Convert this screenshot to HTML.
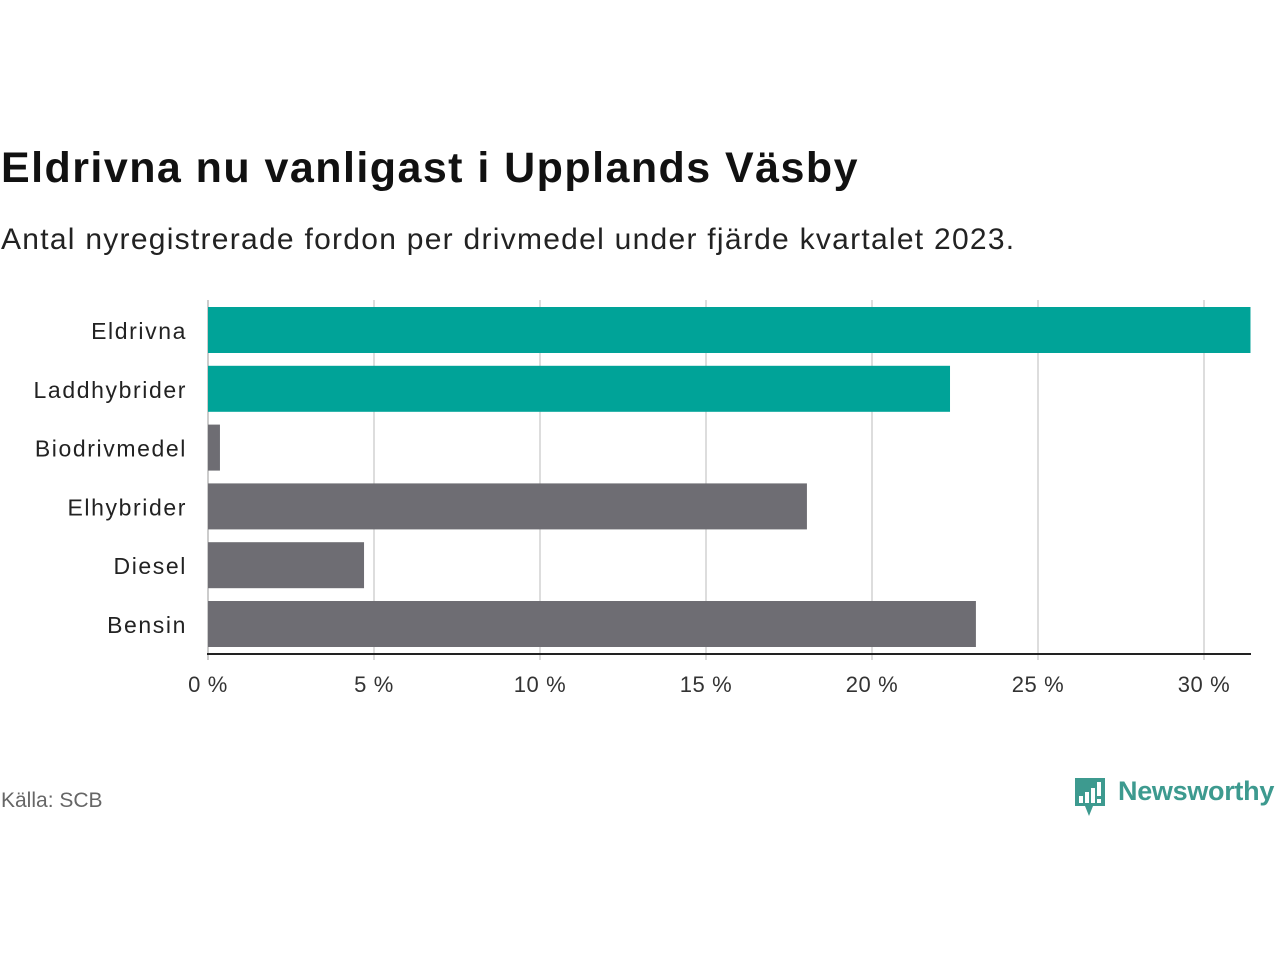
<!DOCTYPE html>
<html><head><meta charset="utf-8"><style>
body{margin:0;width:1280px;height:960px;background:#fff;font-family:"Liberation Sans","DejaVu Sans",sans-serif;overflow:hidden;position:relative}
.t{position:absolute;white-space:nowrap}
</style></head><body>
<div class="t" style="left:1px;top:144px;font-size:43px;font-weight:bold;color:#111;letter-spacing:1.45px">Eldrivna nu vanligast i Upplands Väsby</div>
<div class="t" style="left:1px;top:223px;font-size:30px;color:#222;letter-spacing:1.27px">Antal nyregistrerade fordon per drivmedel under fjärde kvartalet 2023.</div>
<svg id="c" width="1280" height="960" style="position:absolute;left:0;top:0"></svg>
<div class="t" style="left:1px;top:789px;font-size:21px;color:#666">Källa: SCB</div>
<div style="position:absolute;left:1073px;top:776px">
<svg width="34" height="42" style="position:absolute;left:0;top:0"><path d="M2 2h30v28h-12l-4 10l-4-10h-10z" fill="#3d9a8f"/><rect x="6" y="20" width="4" height="7" fill="#fff"/><rect x="12" y="16" width="4" height="11" fill="#fff"/><rect x="18" y="12" width="4" height="15" fill="#fff"/><rect x="24" y="6" width="4" height="14" fill="#fff"/><rect x="24" y="23" width="4" height="4" fill="#fff"/></svg>
<div class="t" style="left:45px;top:0px;font-size:27px;color:#3d9a8f;font-weight:bold;letter-spacing:-0.3px">Newsworthy</div>
</div>
<script>
const categories=["Eldrivna","Laddhybrider","Biodrivmedel","Elhybrider","Diesel","Bensin"];
const values=[31.4,22.35,0.36,18.04,4.7,23.13];
const colors=["#00a398","#00a398","#6e6d73","#6e6d73","#6e6d73","#6e6d73"];
const ticks=[0,5,10,15,20,25,30];
const svg=document.getElementById('c');const NS="http://www.w3.org/2000/svg";
const x=v=>208+v*33.2;
const y=i=>307+i*58.8;
function mk(t,a){const e=document.createElementNS(NS,t);for(const k in a)e.setAttribute(k,a[k]);svg.appendChild(e);return e;}
ticks.forEach(t=>{
const g=mk('line',{x1:x(t),x2:x(t),y1:300,y2:660,stroke:t?"#ddd":"#ccc","stroke-width":2});


const l=mk('text',{x:x(t),y:692,"text-anchor":"middle","font-size":22,fill:"#333","font-family":"Liberation Sans, sans-serif","letter-spacing":"0.6"});
l.textContent=t+" %";


});
categories.forEach((c,i)=>{
const r=mk('rect',{x:x(0),y:y(i),width:x(values[i])-x(0),height:46,fill:colors[i]});


const l=mk('text',{x:187,y:y(i)+32,"text-anchor":"end","font-size":23,fill:"#222","font-family":"Liberation Sans, sans-serif","letter-spacing":"1.6"});
l.textContent=c;


});
const ax=mk('line',{x1:207,x2:1251,y1:654,y2:654,stroke:"#222","stroke-width":2});


</script>
</body></html>
